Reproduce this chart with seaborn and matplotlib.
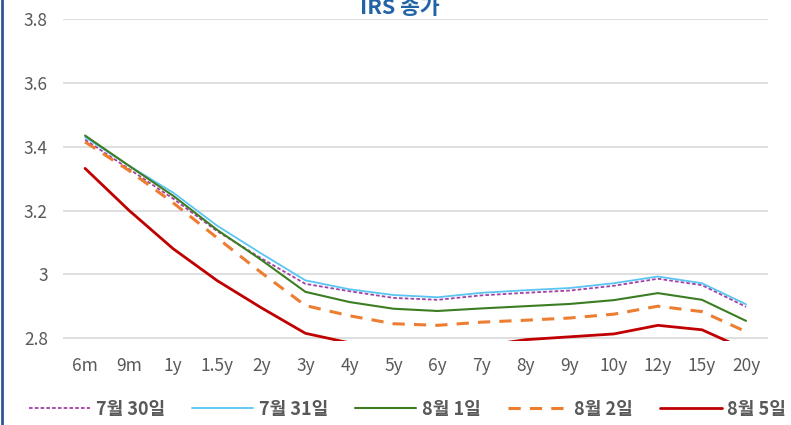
import pandas as pd
import numpy as np
import matplotlib
matplotlib.use("Agg")
import matplotlib.pyplot as plt
import seaborn as sns
from matplotlib.lines import Line2D

# IRS 종가 - 만기별 금리
tenors = ["6m", "9m", "1y", "1.5y", "2y", "3y", "4y", "5y", "6y", "7y", "8y", "9y", "10y", "12y", "15y", "20y"]
jul30 = [3.422, 3.330, 3.237, 3.135, 3.050, 2.970, 2.947, 2.926, 2.920, 2.934, 2.942, 2.949, 2.964, 2.986, 2.966, 2.898]
jul31 = [3.430, 3.340, 3.256, 3.152, 3.065, 2.981, 2.953, 2.935, 2.928, 2.942, 2.950, 2.957, 2.972, 2.993, 2.972, 2.906]
aug01 = [3.435, 3.340, 3.246, 3.139, 3.045, 2.945, 2.913, 2.892, 2.885, 2.893, 2.900, 2.907, 2.919, 2.941, 2.920, 2.854]
aug02 = [3.415, 3.325, 3.224, 3.114, 3.005, 2.902, 2.870, 2.845, 2.840, 2.850, 2.856, 2.863, 2.875, 2.900, 2.883, 2.820]
aug05 = [3.332, 3.200, 3.080, 2.980, 2.895, 2.815, 2.785, 2.770, 2.765, 2.775, 2.795, 2.804, 2.813, 2.840, 2.826, 2.764]

labels = ["7월 30일", "7월 31일", "8월 1일", "8월 2일", "8월 5일"]
colors = ["#A43FA8", "#5BC5F2", "#3C7D22", "#ED7D31", "#C00000"]
widths = [1.3, 1.3, 1.5, 2.2, 2.0]
dashes = [(2, 1.2), "", "", (4, 3), ""]

rows = []
for lab, vals in zip(labels, [jul30, jul31, aug01, aug02, aug05]):
    for t, v in zip(tenors, vals):
        rows.append({"tenor": t, "rate": v, "date": lab})
df = pd.DataFrame(rows)

sns.set_style("white")
plt.rcParams["font.family"] = ["Noto Sans CJK KR", "DejaVu Sans"]

fig = plt.figure(figsize=(7.91, 4.25), dpi=100)
ax = fig.add_axes([0.0797, 0.197, 0.8913, 0.758])

for lab, c, w, d in zip(labels, colors, widths, dashes):
    sub = df[df["date"] == lab]
    sns.lineplot(data=sub, x="tenor", y="rate", ax=ax, color=c, linewidth=w, sort=False, legend=False)
    if d:
        ax.lines[-1].set_dashes(d)

ax.set_ylim(2.79, 3.8)
ax.set_xlim(-0.5, len(tenors) - 0.5)
ax.set_yticks([2.8, 3.0, 3.2, 3.4, 3.6, 3.8])
ax.set_yticklabels(["2.8", "3", "3.2", "3.4", "3.6", "3.8"])
ax.yaxis.grid(True, color="#D9D9D9", linewidth=1.2)
ax.xaxis.grid(False)
for s in ax.spines.values():
    s.set_visible(False)
ax.tick_params(axis="both", length=0, labelsize=12.5, labelcolor="#595959")
ax.tick_params(axis="x", pad=11)
ax.tick_params(axis="y", pad=11)
ax.set_xlabel("")
ax.set_ylabel("")

# 제목 (위쪽이 잘려 보이는 원본 그대로)
fig.text(0.505, 0.966, "IRS 종가", ha="center", va="baseline", fontsize=15.5, fontweight="bold", color="#2163A6")

# 왼쪽 테두리
fig.add_artist(Line2D([0.002, 0.002], [0, 1], transform=fig.transFigure, color="#2F5597", linewidth=2))

handles = [Line2D([], [], color=c, linewidth=w) for c, w in zip(colors, widths)]
for h, d in zip(handles, dashes):
    if d:
        h.set_dashes(d)
leg = fig.legend(handles, labels, loc="center", bbox_to_anchor=(0.515, 0.037), ncol=5, frameon=False,
                 handlelength=3.4, handletextpad=0.3, columnspacing=1.5,
                 prop={"weight": "bold", "size": 13})
for t in leg.get_texts():
    t.set_color("#595959")

fig.savefig("out.png", dpi=100)
